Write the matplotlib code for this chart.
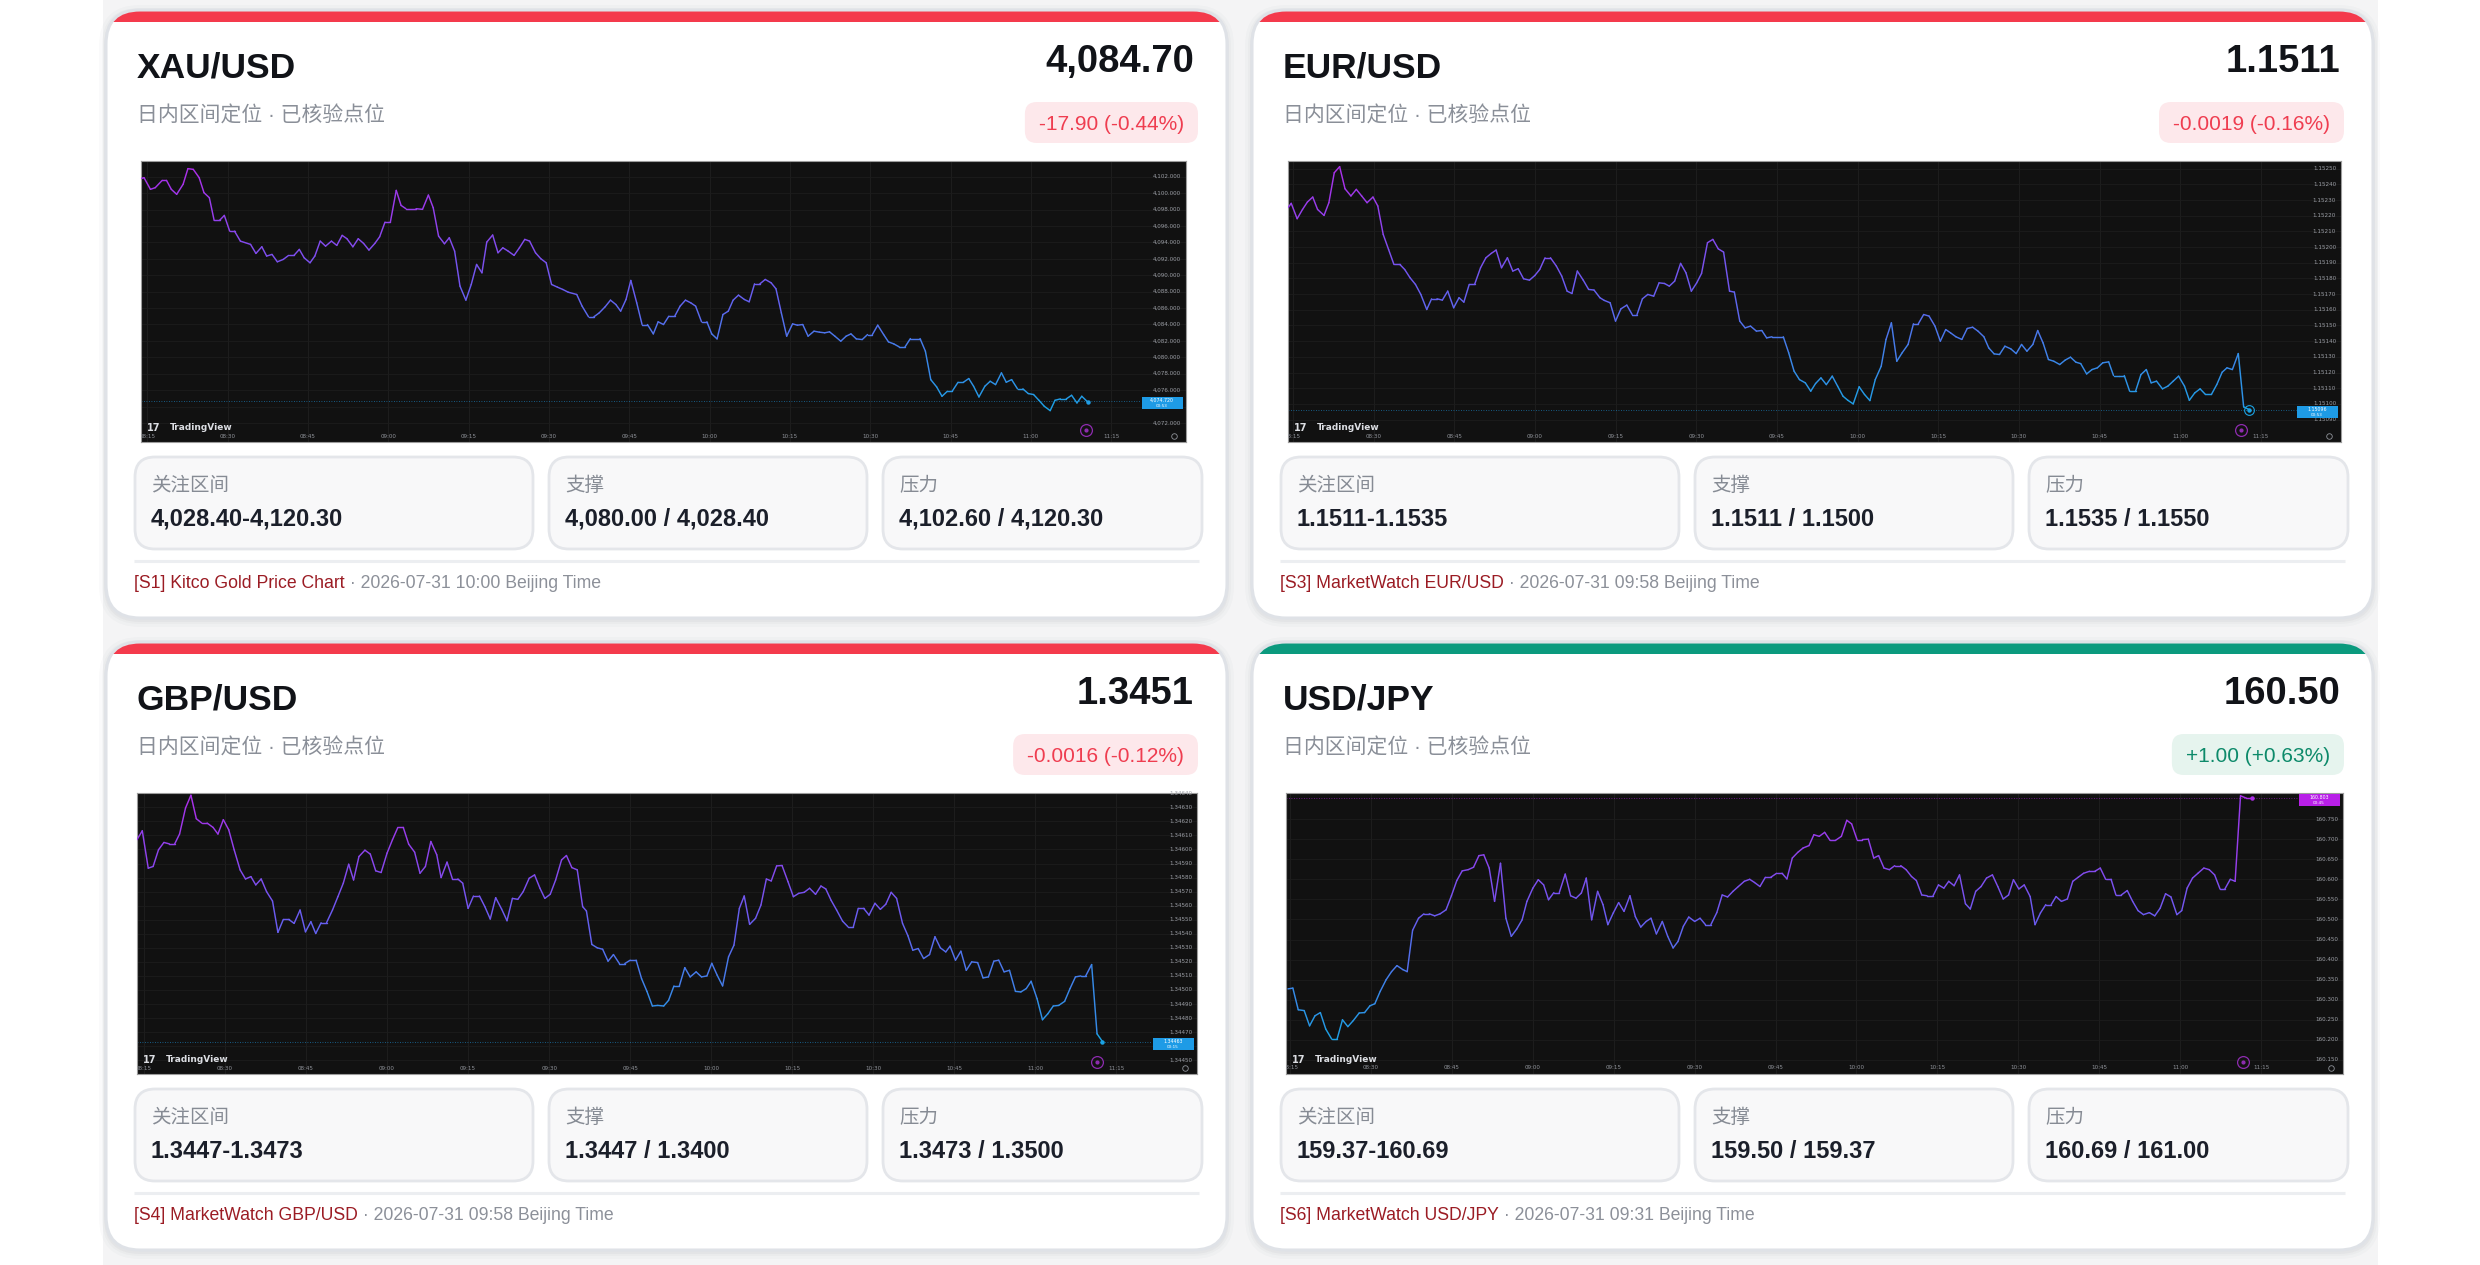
import matplotlib
matplotlib.use('Agg')
import matplotlib.pyplot as plt
import numpy as np
from matplotlib.patches import FancyBboxPatch, Rectangle
from matplotlib.collections import LineCollection
from matplotlib.colors import LinearSegmentedColormap, Normalize
import matplotlib.transforms as mtransforms

plt.rcParams['font.family'] = ['Liberation Sans', 'Noto Sans CJK SC', 'DejaVu Sans']

# ---------------- data ----------------
symbols = ['XAU/USD', 'EUR/USD', 'GBP/USD', 'USD/JPY']
prices = ['4,084.70', '1.1511', '1.3451', '160.50']
changes = ['-17.90 (-0.44%)', '-0.0019 (-0.16%)', '-0.0016 (-0.12%)', '+1.00 (+0.63%)']
directions = ['down', 'down', 'down', 'up']
subtitle = '日内区间定位 · 已核验点位'
box_labels = ['关注区间', '支撑', '压力']
zone_vals = ['4,028.40-4,120.30', '1.1511-1.1535', '1.3447-1.3473', '159.37-160.69']
support_vals = ['4,080.00 / 4,028.40', '1.1511 / 1.1500', '1.3447 / 1.3400', '159.50 / 159.37']
resist_vals = ['4,102.60 / 4,120.30', '1.1535 / 1.1550', '1.3473 / 1.3500', '160.69 / 161.00']
sources = ['[S1] Kitco Gold Price Chart', '[S3] MarketWatch EUR/USD',
           '[S4] MarketWatch GBP/USD', '[S6] MarketWatch USD/JPY']
stamps = ['2026-07-31 10:00 Beijing Time', '2026-07-31 09:58 Beijing Time',
          '2026-07-31 09:58 Beijing Time', '2026-07-31 09:31 Beijing Time']

# time axis: minutes after 08:15
time_labels = ['08:15', '08:30', '08:45', '09:00', '09:15', '09:30', '09:45',
               '10:00', '10:15', '10:30', '10:45', '11:00', '11:15']
time_ticks = [0, 15, 30, 45, 60, 75, 90, 105, 120, 135, 150, 165, 180]

xau_series = [
    (-1.2, 4101.76), (-0.6, 4101.88), (0.6, 4100.46), (1.5, 4100.66), (2.8, 4101.55), (3.6, 4101.55),
    (4.5, 4100.46), (5.5, 4099.85), (6.7, 4101.07), (7.6, 4102.98), (8.6, 4102.89), (9.7, 4101.88),
    (10.6, 4100.05), (11.6, 4099.44), (12.5, 4096.67), (13.5, 4096.67), (14.4, 4097.28), (15.4, 4095.37),
    (16.3, 4095.37), (17.4, 4094.15), (19.3, 4093.75), (20.3, 4092.65), (21.4, 4093.46), (22.3, 4092.33),
    (23.3, 4092.53), (24.3, 4091.63), (25.4, 4091.92), (26.4, 4092.41), (27.4, 4092.41), (28.4, 4093.14),
    (29.3, 4092.12), (30.4, 4091.51), (31.3, 4092.33), (32.3, 4094.15), (33.3, 4093.54), (34.4, 4094.15),
    (35.4, 4093.63), (36.4, 4094.85), (37.3, 4094.44), (38.4, 4093.46), (39.4, 4094.44), (40.4, 4093.87),
    (41.4, 4093.06), (42.5, 4093.87), (43.4, 4094.68), (44.4, 4096.47), (45.4, 4096.47), (46.5, 4100.33),
    (47.4, 4098.50), (48.3, 4098.10), (50.2, 4098.10), (51.4, 4098.02), (52.5, 4099.76), (53.4, 4098.22),
    (54.4, 4094.76), (55.5, 4093.83), (56.4, 4094.56), (57.4, 4092.93), (58.4, 4088.67), (59.5, 4086.96),
    (60.5, 4088.87), (61.5, 4091.31), (62.5, 4090.29), (63.4, 4094.03), (64.5, 4094.89), (65.5, 4092.73),
    (66.4, 4093.34), (67.4, 4092.93), (68.5, 4092.41), (69.5, 4093.34), (70.5, 4094.36), (71.4, 4094.15),
    (72.5, 4092.73), (73.5, 4092.00), (74.5, 4091.51), (75.5, 4088.87), (76.6, 4088.54), (77.6, 4088.26),
    (78.6, 4087.93), (80.2, 4087.65), (81.2, 4086.23), (82.4, 4084.93), (83.4, 4084.93), (84.4, 4085.41),
    (85.5, 4086.15), (86.5, 4086.96), (87.5, 4086.43), (88.4, 4085.62), (89.4, 4087.04), (90.3, 4089.36),
    (91.4, 4086.63), (92.4, 4083.99), (93.4, 4083.99), (94.5, 4082.85), (95.4, 4084.32), (96.4, 4083.99),
    (97.4, 4085.01), (98.5, 4085.01), (99.5, 4086.23), (100.5, 4086.96), (101.5, 4086.63), (102.4, 4086.23),
    (103.5, 4084.32), (104.5, 4084.32), (105.4, 4082.85), (106.4, 4082.24), (107.5, 4085.21), (108.5, 4085.62),
    (109.4, 4086.96), (110.4, 4087.57), (111.5, 4087.04), (112.4, 4086.76), (113.4, 4088.95), (114.4, 4088.95),
    (115.4, 4089.48), (116.5, 4089.07), (117.4, 4088.34), (118.4, 4085.41), (119.4, 4082.57), (120.5, 4084.07),
    (121.4, 4083.91), (122.4, 4083.99), (123.4, 4082.57), (124.5, 4083.18), (125.5, 4083.06), (126.5, 4082.98),
    (127.4, 4083.10), (128.4, 4082.57), (129.5, 4081.96), (130.5, 4082.57), (131.4, 4082.85), (132.4, 4082.24),
    (133.5, 4082.16), (134.5, 4082.77), (135.4, 4082.77), (136.4, 4083.91), (137.5, 4082.77), (138.4, 4081.88),
    (139.4, 4081.63), (140.4, 4081.27), (141.5, 4081.27), (142.5, 4082.28), (144.3, 4082.28), (145.3, 4080.74),
    (146.3, 4077.28), (147.4, 4076.39), (148.4, 4075.25), (149.4, 4075.86), (150.3, 4075.86), (151.4, 4076.96),
    (152.4, 4076.96), (153.4, 4077.41), (154.3, 4076.47), (155.3, 4075.17), (156.4, 4076.47), (157.4, 4077.08),
    (158.4, 4076.67), (159.5, 4078.10), (160.4, 4076.96), (161.4, 4077.28), (162.5, 4076.15), (163.5, 4076.15),
    (164.5, 4075.58), (165.5, 4075.46), (166.5, 4074.76), (167.5, 4074.03), (168.6, 4073.50), (169.5, 4074.76),
    (170.5, 4074.93), (171.6, 4074.93), (172.6, 4075.37), (173.6, 4074.44), (174.5, 4075.25), (175.6, 4074.56),
]

eur_series = [
    (-0.9, 1.152251), (-0.3, 1.152279), (0.8, 1.152181), (1.8, 1.152240), (2.7, 1.152287), (3.7, 1.152319),
    (4.6, 1.152240), (5.8, 1.152202), (6.7, 1.152283), (7.7, 1.152474), (8.7, 1.152513), (9.7, 1.152372),
    (10.8, 1.152326), (11.8, 1.152368), (12.8, 1.152326), (13.8, 1.152283), (14.9, 1.152319), (15.8, 1.152262),
    (16.8, 1.152081), (17.8, 1.151985), (18.8, 1.151889), (19.9, 1.151889), (20.8, 1.151857), (21.8, 1.151804),
    (22.8, 1.151762), (23.8, 1.151698), (24.9, 1.151602), (25.8, 1.151670), (26.8, 1.151670), (27.8, 1.151662),
    (28.8, 1.151719), (29.9, 1.151613), (30.9, 1.151677), (31.8, 1.151649), (32.8, 1.151762), (33.8, 1.151762),
    (34.9, 1.151868), (35.9, 1.151932), (36.9, 1.151960), (37.8, 1.151981), (38.8, 1.151868), (39.9, 1.151932),
    (40.9, 1.151847), (41.9, 1.151862), (42.9, 1.151798), (44.0, 1.151789), (45.0, 1.151819), (45.9, 1.151857),
    (46.9, 1.151932), (47.9, 1.151932), (49.0, 1.151879), (50.0, 1.151815), (51.0, 1.151719), (51.9, 1.151704),
    (52.9, 1.151847), (54.0, 1.151789), (55.0, 1.151730), (56.0, 1.151726), (57.1, 1.151677), (57.9, 1.151660),
    (59.0, 1.151645), (60.0, 1.151528), (61.0, 1.151606), (62.1, 1.151630), (63.1, 1.151570), (64.0, 1.151570),
    (65.0, 1.151670), (66.0, 1.151698), (67.1, 1.151687), (68.1, 1.151772), (69.1, 1.151768), (70.0, 1.151751),
    (71.0, 1.151783), (72.1, 1.151896), (73.1, 1.151836), (74.1, 1.151719), (75.1, 1.151772), (76.0, 1.151832),
    (77.1, 1.152028), (78.1, 1.152049), (79.1, 1.151989), (80.1, 1.151968), (81.2, 1.151719), (82.1, 1.151713),
    (83.1, 1.151528), (84.1, 1.151485), (85.1, 1.151496), (86.2, 1.151464), (87.2, 1.151468), (88.1, 1.151421),
    (89.1, 1.151428), (91.2, 1.151428), (92.2, 1.151326), (93.2, 1.151209), (94.2, 1.151155), (95.3, 1.151134),
    (96.3, 1.151081), (97.2, 1.151130), (98.2, 1.151166), (99.2, 1.151123), (100.3, 1.151177), (101.3, 1.151113),
    (102.3, 1.151049), (103.2, 1.151023), (104.2, 1.151000), (105.3, 1.151109), (106.3, 1.151060), (107.3, 1.151021),
    (108.3, 1.151155), (109.4, 1.151240), (110.3, 1.151411), (111.3, 1.151517), (112.3, 1.151272), (113.3, 1.151326),
    (114.4, 1.151379), (115.4, 1.151511), (116.3, 1.151511), (117.3, 1.151570), (118.3, 1.151560), (119.4, 1.151496),
    (120.4, 1.151400), (121.4, 1.151474), (122.3, 1.151453), (123.3, 1.151428), (124.4, 1.151411), (125.4, 1.151481),
    (126.4, 1.151489), (127.4, 1.151464), (128.5, 1.151428), (129.4, 1.151357), (130.4, 1.151319), (131.4, 1.151315),
    (132.4, 1.151368), (133.5, 1.151351), (134.5, 1.151321), (135.5, 1.151379), (136.5, 1.151336), (137.6, 1.151379),
    (138.5, 1.151468), (139.5, 1.151389), (140.5, 1.151283), (141.5, 1.151272), (142.6, 1.151251), (143.6, 1.151279),
    (144.6, 1.151298), (145.6, 1.151266), (146.5, 1.151257), (147.6, 1.151191), (148.6, 1.151219), (149.6, 1.151230),
    (150.6, 1.151262), (151.7, 1.151268), (152.6, 1.151181), (153.6, 1.151181), (154.6, 1.151181), (155.6, 1.151081),
    (156.7, 1.151081), (157.7, 1.151187), (158.7, 1.151219), (159.6, 1.151134), (160.6, 1.151145), (161.7, 1.151096),
    (162.7, 1.151113), (163.7, 1.151145), (164.7, 1.151177), (165.8, 1.151113), (166.7, 1.151023), (167.7, 1.151070),
    (168.7, 1.151096), (169.7, 1.151060), (170.8, 1.151060), (171.8, 1.151123), (172.8, 1.151202), (173.7, 1.151230),
    (174.7, 1.151219), (175.8, 1.151321), (176.8, 1.150981), (177.8, 1.150964),
]

gbp_series = [
    (-1.3, 1.346069), (-0.3, 1.346133), (0.8, 1.345867), (1.7, 1.345879), (2.7, 1.345998), (3.7, 1.346050),
    (4.7, 1.346040), (5.7, 1.346040), (6.6, 1.346110), (7.7, 1.346295), (8.7, 1.346386), (9.7, 1.346219),
    (10.7, 1.346188), (11.7, 1.346188), (12.8, 1.346157), (13.7, 1.346110), (14.7, 1.346212), (15.7, 1.346140),
    (16.7, 1.345998), (17.8, 1.345855), (18.8, 1.345790), (19.8, 1.345807), (20.7, 1.345748), (21.7, 1.345790),
    (22.7, 1.345700), (23.8, 1.345633), (24.8, 1.345410), (25.8, 1.345502), (26.8, 1.345502), (27.8, 1.345474),
    (28.9, 1.345569), (29.9, 1.345414), (30.9, 1.345486), (31.8, 1.345402), (32.8, 1.345479), (33.8, 1.345479),
    (34.9, 1.345569), (35.9, 1.345664), (36.9, 1.345760), (37.9, 1.345895), (38.8, 1.345783), (39.8, 1.345950),
    (40.9, 1.345995), (41.9, 1.345967), (42.9, 1.345848), (43.9, 1.345836), (45.0, 1.345974), (46.0, 1.346069),
    (47.0, 1.346157), (48.0, 1.346157), (49.0, 1.346038), (50.1, 1.345981), (51.1, 1.345831), (52.1, 1.345879),
    (53.1, 1.346057), (54.2, 1.345962), (55.0, 1.345800), (56.1, 1.345910), (57.1, 1.345790), (58.1, 1.345790),
    (59.0, 1.345760), (60.0, 1.345581), (61.0, 1.345669), (62.1, 1.345669), (63.1, 1.345593), (64.1, 1.345505),
    (65.1, 1.345657), (66.2, 1.345576), (67.2, 1.345493), (68.2, 1.345652), (69.2, 1.345645), (70.2, 1.345700),
    (71.3, 1.345795), (72.3, 1.345819), (73.3, 1.345724), (74.2, 1.345652), (75.2, 1.345681), (76.2, 1.345783),
    (77.3, 1.345926), (78.2, 1.345957), (79.2, 1.345871), (80.2, 1.345855), (81.2, 1.345593), (81.9, 1.345562),
    (82.9, 1.345324), (83.9, 1.345300), (84.9, 1.345290), (85.9, 1.345205), (86.9, 1.345252), (88.0, 1.345188),
    (89.0, 1.345188), (90.0, 1.345212), (91.1, 1.345212), (92.1, 1.345081), (93.1, 1.344990), (94.1, 1.344886),
    (95.1, 1.344890), (96.2, 1.344886), (97.1, 1.344926), (98.1, 1.345029), (99.1, 1.345029), (100.1, 1.345159),
    (101.1, 1.345093), (102.2, 1.345129), (103.2, 1.345093), (104.2, 1.345100), (105.1, 1.345190), (106.1, 1.345105),
    (107.1, 1.345029), (108.2, 1.345236), (109.2, 1.345319), (110.2, 1.345581), (111.1, 1.345669), (112.1, 1.345467),
    (113.2, 1.345510), (114.2, 1.345605), (115.2, 1.345790), (116.1, 1.345776), (117.1, 1.345883), (118.1, 1.345886),
    (119.2, 1.345771), (120.2, 1.345664), (121.2, 1.345688), (122.2, 1.345695), (123.2, 1.345724), (124.3, 1.345681),
    (125.3, 1.345740), (126.2, 1.345719), (127.2, 1.345637), (128.2, 1.345569), (129.3, 1.345490), (130.3, 1.345450),
    (131.3, 1.345450), (132.2, 1.345581), (133.2, 1.345581), (134.2, 1.345533), (135.3, 1.345617), (136.3, 1.345574),
    (137.3, 1.345610), (138.3, 1.345695), (139.3, 1.345652), (140.4, 1.345474), (141.4, 1.345386), (142.3, 1.345283),
    (143.3, 1.345295), (144.3, 1.345224), (145.4, 1.345252), (146.4, 1.345379), (147.4, 1.345300), (148.4, 1.345271),
    (149.2, 1.345312), (150.2, 1.345212), (151.2, 1.345276), (152.2, 1.345140), (153.2, 1.345200), (154.3, 1.345195),
    (155.3, 1.345086), (156.3, 1.345093), (157.3, 1.345205), (158.2, 1.345212), (159.2, 1.345129), (160.2, 1.345140),
    (161.3, 1.344990), (162.3, 1.344986), (163.3, 1.345010), (164.2, 1.345062), (165.3, 1.344938), (166.3, 1.344788),
    (167.3, 1.344831), (168.3, 1.344886), (169.3, 1.344890), (170.4, 1.344919), (171.4, 1.345010), (172.4, 1.345093),
    (173.4, 1.345100), (174.3, 1.345100), (175.4, 1.345181), (176.4, 1.344688), (177.4, 1.344633),
]

jpy_series = [
    (-0.4, 160.327), (0.5, 160.329), (1.5, 160.275), (2.6, 160.273), (3.6, 160.235), (4.6, 160.260),
    (5.6, 160.268), (6.6, 160.227), (7.7, 160.202), (8.7, 160.202), (9.7, 160.250), (10.7, 160.233),
    (11.7, 160.248), (12.8, 160.267), (13.8, 160.268), (14.8, 160.285), (15.7, 160.290), (16.7, 160.321),
    (17.8, 160.350), (18.8, 160.370), (19.8, 160.385), (20.9, 160.375), (21.7, 160.370), (22.7, 160.473),
    (23.8, 160.503), (24.8, 160.514), (25.8, 160.514), (26.8, 160.509), (27.8, 160.514), (28.9, 160.524),
    (29.9, 160.559), (30.9, 160.597), (31.9, 160.621), (33.0, 160.624), (34.0, 160.630), (35.0, 160.659),
    (35.9, 160.661), (36.9, 160.628), (37.9, 160.545), (39.0, 160.640), (40.0, 160.503), (41.0, 160.458),
    (42.0, 160.476), (43.0, 160.499), (43.9, 160.545), (45.0, 160.578), (46.0, 160.599), (47.0, 160.586),
    (47.9, 160.549), (48.9, 160.567), (49.9, 160.567), (51.0, 160.613), (52.0, 160.559), (53.0, 160.553),
    (54.0, 160.566), (54.9, 160.603), (55.9, 160.499), (57.0, 160.570), (58.0, 160.537), (58.9, 160.487),
    (59.9, 160.516), (60.9, 160.542), (61.9, 160.520), (63.0, 160.559), (64.0, 160.507), (65.0, 160.481),
    (66.0, 160.495), (66.9, 160.503), (67.9, 160.464), (69.0, 160.495), (70.0, 160.458), (71.0, 160.429),
    (71.9, 160.445), (72.9, 160.483), (73.9, 160.506), (75.0, 160.495), (76.0, 160.503), (77.0, 160.487),
    (78.0, 160.487), (79.1, 160.517), (80.1, 160.561), (81.1, 160.556), (82.1, 160.570), (83.1, 160.582),
    (84.2, 160.595), (85.2, 160.600), (86.1, 160.592), (87.1, 160.582), (88.1, 160.605), (89.1, 160.605),
    (90.2, 160.615), (91.2, 160.615), (92.1, 160.601), (93.1, 160.653), (94.1, 160.667), (95.1, 160.678),
    (96.2, 160.684), (97.1, 160.711), (98.1, 160.707), (99.1, 160.717), (100.1, 160.697), (101.1, 160.697),
    (102.2, 160.707), (103.2, 160.747), (104.1, 160.738), (105.1, 160.699), (106.1, 160.699), (107.2, 160.700),
    (108.2, 160.653), (109.1, 160.659), (110.1, 160.628), (111.1, 160.624), (112.1, 160.634), (113.2, 160.634),
    (114.2, 160.624), (115.2, 160.607), (116.1, 160.597), (117.1, 160.561), (118.1, 160.559), (119.2, 160.559),
    (120.2, 160.586), (121.2, 160.578), (122.1, 160.595), (123.1, 160.584), (124.1, 160.611), (125.2, 160.539),
    (126.1, 160.526), (127.1, 160.570), (128.1, 160.582), (129.1, 160.603), (130.2, 160.611), (131.2, 160.582),
    (132.2, 160.551), (133.2, 160.561), (134.1, 160.599), (135.1, 160.576), (136.1, 160.586), (137.2, 160.557),
    (138.1, 160.487), (139.1, 160.516), (140.1, 160.537), (141.1, 160.537), (142.0, 160.557), (143.0, 160.545),
    (144.1, 160.551), (145.1, 160.595), (146.1, 160.605), (147.1, 160.615), (148.2, 160.620), (149.2, 160.620),
    (150.2, 160.628), (151.2, 160.600), (152.2, 160.600), (153.1, 160.561), (154.1, 160.561), (155.2, 160.572),
    (156.2, 160.545), (157.2, 160.522), (158.2, 160.512), (159.3, 160.517), (160.3, 160.509), (161.3, 160.528),
    (162.3, 160.564), (163.3, 160.556), (164.4, 160.512), (165.3, 160.522), (166.3, 160.578), (167.3, 160.603),
    (168.3, 160.615), (169.4, 160.628), (170.4, 160.624), (171.4, 160.611), (172.4, 160.576), (173.3, 160.576),
    (174.3, 160.600), (175.2, 160.595), (176.2, 160.808), (177.3, 160.802), (178.3, 160.802),
]

series_list = [xau_series, eur_series, gbp_series, jpy_series]
# visible ranges of each chart screenshot
x_ranges = [(-1.16, 193.96), (-0.9, 194.9), (-1.28, 194.9), (-0.77, 195.2)]
y_ranges = [(4069.68, 4103.91), (1.150757, 1.152549), (1.344402, 1.346402), (160.115, 160.815)]
price_ticks = [
    [4072, 4074, 4076, 4078, 4080, 4082, 4084, 4086, 4088, 4090, 4092, 4094, 4096, 4098, 4100, 4102],
    [1.1509, 1.1510, 1.1511, 1.1512, 1.1513, 1.1514, 1.1515, 1.1516, 1.1517, 1.1518, 1.1519,
     1.1520, 1.1521, 1.1522, 1.1523, 1.1524, 1.1525],
    [1.3445, 1.3446, 1.3447, 1.3448, 1.3449, 1.3450, 1.3451, 1.3452, 1.3453, 1.3454, 1.3455,
     1.3456, 1.3457, 1.3458, 1.3459, 1.3460, 1.3461, 1.3462, 1.3463, 1.3464],
    [160.15, 160.20, 160.25, 160.30, 160.35, 160.40, 160.45, 160.50, 160.55, 160.60, 160.65, 160.70, 160.75],
]
tick_formats = ['{:,.3f}', '{:.5f}', '{:.5f}', '{:.3f}']
current_values = [4074.72, 1.15096, 1.34463, 160.803]
current_labels = ['4,074.720', '1.15096', '1.34463', '160.803']
countdown_labels = ['00:53', '00:53', '00:15', '00:45']

# ---------------- layout / style ----------------
W, H = 2480, 1265
fig = plt.figure(figsize=(W / 100, H / 100), dpi=100, facecolor='white')
bg = fig.add_axes([0, 0, 1, 1])
bg.set_xlim(0, W)
bg.set_ylim(H, 0)
bg.axis('off')
renderer = fig.canvas.get_renderer()

bg.add_patch(Rectangle((103, 0), 2275, H, fc='#f4f4f5', ec='none', zorder=0))

CARD_W, CARD_H = 1121, 608
card_pos = [(106, 10), (1252, 10), (106, 642), (1252, 642)]
chart_x = [(141, 1186), (1288, 2341), (137, 1197), (1286, 2343)]
CHART_TOP, CHART_BOT = 151, 432
box_x = [(29, 427), (443, 761), (777, 1096)]

RED, GREEN = '#f43a4c', '#0b9a7e'
line_cmap = LinearSegmentedColormap.from_list('tvgrad', ['#1ba2e3', '#6a5cf0', '#ae2ee9'])


def draw_chart(ax, series, xr, yr, ticks, fmt, cur, cur_lbl, cd_lbl, idx):
    wpx = ax.get_position().width * W
    hpx = ax.get_position().height * H
    dy = (yr[1] - yr[0]) / hpx
    ax.set_facecolor('#111111')
    ax.set_xlim(*xr)
    ax.set_ylim(*yr)
    ax.set_xticks([])
    ax.set_yticks([])
    for s in ax.spines.values():
        s.set_color('#9c9c9c')
        s.set_linewidth(0.8)
    for tt in time_ticks:
        ax.axvline(tt, color='#1e1e1e', lw=0.7, zorder=1)
    for p in ticks:
        ax.axhline(p, color='#1c1c1c', lw=0.6, zorder=1)
    tr_y = mtransforms.blended_transform_factory(ax.transAxes, ax.transData)
    for p in ticks:
        ax.text(1 - 5 / wpx, p, fmt.format(p), transform=tr_y, ha='right', va='center',
                fontsize=4.1, color='#9a9da4', family='DejaVu Sans', zorder=3)
    for tt, lb in zip(time_ticks, time_labels):
        ax.text(tt, yr[0] + 6 * dy, lb, ha='center', va='center', fontsize=4.1,
                color='#8f9299', family='DejaVu Sans', clip_on=True, zorder=3)
    t = np.array([p[0] for p in series])
    v = np.array([p[1] for p in series])
    pts = np.column_stack([t, v]).reshape(-1, 1, 2)
    segs = np.concatenate([pts[:-1], pts[1:]], axis=1)
    lc = LineCollection(segs, cmap=line_cmap, norm=Normalize(v.min(), v.max()), lw=1.05,
                        capstyle='round', joinstyle='round', zorder=4)
    lc.set_array((v[:-1] + v[1:]) / 2)
    ax.add_collection(lc)
    end_col = line_cmap(Normalize(v.min(), v.max())(v[-1]))
    ax.plot(t[-1], v[-1], 'o', ms=2.2, color=end_col, zorder=5)
    if idx == 1:
        ax.plot(t[-1], v[-1], 'o', ms=7, mfc='none', mec=end_col, mew=0.8, zorder=5)
    box_col = '#b81fe8' if idx == 3 else '#1e9be6'
    ax.axhline(cur, xmax=1 - 45 / wpx, color=box_col, lw=0.6, ls=(0, (1, 2)), alpha=0.7, zorder=2)
    ax.add_patch(Rectangle((1 - 44 / wpx, cur - 8 * dy), 41 / wpx, 12 * dy, transform=tr_y,
                           fc=box_col, ec='none', zorder=6))
    ax.text(1 - 24 / wpx, cur + 0.5 * dy, cur_lbl, transform=tr_y, ha='center', va='center',
            fontsize=3.4, color='white', family='DejaVu Sans', zorder=7)
    ax.text(1 - 24 / wpx, cur - 5 * dy, cd_lbl, transform=tr_y, ha='center', va='center',
            fontsize=3.0, color='white', family='DejaVu Sans', zorder=7)
    tr_a = ax.transAxes
    ax.plot(1 - 100 / wpx, 12 / hpx, 'o', ms=8.5, mfc='none', mec='#8e2cb0', mew=0.9, transform=tr_a, zorder=5)
    ax.plot(1 - 100 / wpx, 12 / hpx, 'o', ms=2, color='#8e2cb0', transform=tr_a, zorder=5)
    ax.plot(1 - 12 / wpx, 6 / hpx, 'o', ms=4, mfc='none', mec='#8f9299', mew=0.6, transform=tr_a, zorder=5)
    ax.text(6 / wpx, 14 / hpx, '17', transform=tr_a, ha='left', va='center', fontsize=7,
            fontweight='bold', color='#dcdee3', family='DejaVu Sans', zorder=5)
    ax.text(29 / wpx, 14 / hpx, 'TradingView', transform=tr_a, ha='left', va='center', fontsize=6.5,
            fontweight='bold', color='#dcdee3', family='DejaVu Sans', zorder=5)


for i in range(4):
    L, T = card_pos[i]
    R = L + CARD_W
    accent = RED if directions[i] == 'down' else GREEN
    for k, a in [(7, 0.018), (4, 0.025), (2, 0.03)]:
        bg.add_patch(FancyBboxPatch((L - k, T - k + 2), CARD_W + 2 * k, CARD_H + 2 * k,
                                    boxstyle=f'round,pad=0,rounding_size={34 + k}',
                                    fc='#1f2937', ec='none', alpha=a, zorder=1))
    card = FancyBboxPatch((L, T), CARD_W, CARD_H, boxstyle='round,pad=0,rounding_size=34',
                          fc='white', ec='none', zorder=2)
    bg.add_patch(card)
    bar = Rectangle((L, T), CARD_W, 12, fc=accent, ec='none', zorder=3)
    bg.add_patch(bar)
    bar.set_clip_path(card)
    bg.add_patch(FancyBboxPatch((L, T), CARD_W, CARD_H, boxstyle='round,pad=0,rounding_size=34',
                                fc='none', ec='#dfe2e7', lw=2.2, zorder=4))

    # header
    bg.text(L + 31, T + 67, symbols[i], fontsize=25.5, fontweight='bold', color='#111318',
            ha='left', va='baseline', zorder=5)
    bg.text(R - 33, T + 62, prices[i], fontsize=27.5, fontweight='bold', color='#111318',
            ha='right', va='baseline', zorder=5)
    bg.text(L + 31, T + 112, subtitle, fontsize=15, color='#8a8f98', ha='left', va='baseline', zorder=5)
    bcol, bfill = ('#ef3d50', '#fde8eb') if directions[i] == 'down' else ('#0d8a6a', '#e6f4ee')
    bt = bg.text(R - 29 - 14, T + 120.5, changes[i], fontsize=15, color=bcol, ha='right',
                 va='baseline', zorder=6)
    bw = bt.get_window_extent(renderer).width
    bg.add_patch(FancyBboxPatch((R - 29 - bw - 28, T + 92), bw + 28, 41,
                                boxstyle='round,pad=0,rounding_size=12', fc=bfill, ec='none', zorder=5))

    # chart
    cx0, cx1 = chart_x[i]
    cy0, cy1 = T + CHART_TOP, T + CHART_BOT
    ax = fig.add_axes([cx0 / W, 1 - cy1 / H, (cx1 - cx0) / W, (cy1 - cy0) / H])
    draw_chart(ax, series_list[i], x_ranges[i], y_ranges[i], price_ticks[i], tick_formats[i],
               current_values[i], current_labels[i], countdown_labels[i], i)

    # level boxes
    vals = [zone_vals[i], support_vals[i], resist_vals[i]]
    for (bx0, bx1), lab, val in zip(box_x, box_labels, vals):
        bg.add_patch(FancyBboxPatch((L + bx0, T + 447), bx1 - bx0, 92,
                                    boxstyle='round,pad=0,rounding_size=20',
                                    fc='#f8f8f9', ec='#e4e6ea', lw=2.0, zorder=5))
        bg.text(L + bx0 + 16, T + 481, lab, fontsize=14, color='#868b94', ha='left',
                va='baseline', zorder=6)
        bg.text(L + bx0 + 16, T + 515.5, val, fontsize=17, fontweight='bold', color='#1b1f2a',
                ha='left', va='baseline', zorder=6)

    # separator + source
    bg.plot([L + 28, R - 28], [T + 551, T + 551], color='#eceef1', lw=2.2, zorder=5,
            solid_capstyle='butt')
    st = bg.text(L + 28, T + 578, sources[i], fontsize=12.7, color='#9b1c24', ha='left',
                 va='baseline', zorder=6)
    x_end = st.get_window_extent(renderer).x1
    bg.text(x_end, T + 578, ' · ' + stamps[i], fontsize=12.7, color='#8c9099', ha='left',
            va='baseline', zorder=6)

fig.savefig('out.png', dpi=100, facecolor='white')
